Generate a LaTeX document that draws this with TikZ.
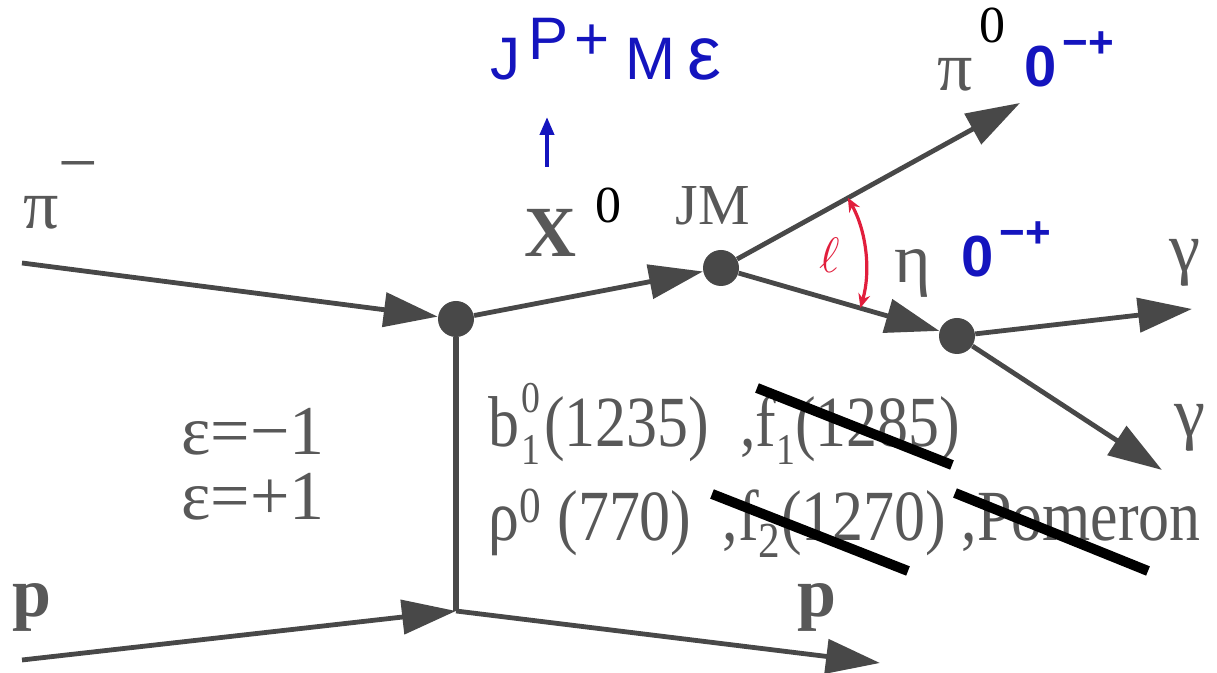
\documentclass[tikz,border=0pt]{standalone}
\usepackage{fontspec}
\setmainfont{Liberation Serif}
\setsansfont{Liberation Sans}
\newfontfamily\jmcond[FakeStretch=0.86]{Liberation Serif}
\usetikzlibrary{arrows.meta}
\definecolor{jmgrey}{RGB}{72,72,72}
\definecolor{jmtext}{RGB}{88,88,88}
\definecolor{jmblue}{RGB}{20,20,190}
\definecolor{jmred}{RGB}{225,30,60}
\def\jmFs#1{\fontsize{#1}{#1}\selectfont}
\def\jmQN#1#2#3{%
  \node[jmqn, font=\sffamily\bfseries\jmFs{29}] (#1) at (#2,#3) {0};
  \node[jmqn, font=\sffamily\bfseries\jmFs{22}] (#1s) at ({#2+47},{#3+22}) {\char"2212+};}

\begin{document}
\begin{tikzpicture}[
    x=0.5pt, y=0.5pt,
    jmline/.style  = {jmgrey, line width=2.4pt},
    jmarr/.style   = {jmline, -{Triangle[length=27pt,width=17pt]}},
    jmdot/.style   = {circle, fill=jmgrey, minimum size=18pt, inner sep=0pt},
    jmlbl/.style   = {text=jmtext, inner sep=0pt, font=\jmFs{35}},
    jmsup/.style   = {text=black, inner sep=0pt, font=\jmFs{26}},
    jmqn/.style    = {text=jmblue, inner sep=0pt},
    jmangle/.style = {jmred, line width=1.6pt,
                      {Stealth[length=7pt,width=6pt]}-{Stealth[length=7pt,width=6pt]}},
    jmcut/.style   = {black, line width=5pt}]

  \useasboundingbox (0,0) rectangle (1217,673);

  %% ---- vertices ----------------------------------------------------
  \node[jmdot] (vpi)  at (456,354) {};
  \node[jmdot] (vjm)  at (721,405) {};
  \node[jmdot] (veta) at (957,337) {};
  \coordinate (vp) at (456,62);

  % free ends
  \coordinate (pimin) at (22,410);
  \coordinate (pin)   at (22,13);
  \coordinate (pout)  at (880,10);
  \coordinate (pizout) at (1020,570);
  \coordinate (gaout) at (1192,364);
  \coordinate (gbout) at (1162,203);

  %% ---- lines -------------------------------------------------------
  \draw[jmarr]  (pimin) -- (vpi);
  \draw[jmline, line width=2.8pt] (vpi) -- (vp);
  \draw[jmarr]  (pin) -- (vp);
  \draw[jmarr]  (vp) -- (pout);
  \draw[jmarr]  (vpi) -- (vjm);
  \draw[jmarr]  (vjm) -- (pizout);
  \draw[jmarr]  (vjm) -- (veta);
  \draw[jmarr]  (veta) -- (gaout);
  \draw[jmarr]  (veta) -- (gbout);

  %% ---- labels ------------------------------------------------------
  \node[jmlbl] (lpim) at (41,460) {π};
  \node[jmlbl] (lpims) at (78,499) {\char"2212};
  \node[jmlbl, font=\bfseries\jmFs{35}] (lpl) at (32,66) {p};
  \node[jmlbl, font=\bfseries\jmFs{35}] (lpr) at (817,66) {p};
  \node[jmlbl, font=\bfseries\jmFs{36}] (lx) at (550,440) {X};
  \node[jmsup] (lxs) at (608,468) {0};
  \node[jmlbl, font=\jmFs{29}] (ljm) at (713,467) {JM};
  \node[jmlbl] (lpiz) at (955,598) {π};
  \node[jmsup] (lpizs) at (992,648) {0};
  \node[jmlbl] (leta) at (913,400) {η};
  \node[jmlbl] (lga) at (1185,410) {γ};
  \node[jmlbl] (lgb) at (1190,245) {γ};
  \node[jmlbl] (leps) at (253,241) {ε=\char"2212 1};
  \node[jmlbl] (lepp) at (253,176) {ε=+1};
  \node[jmlbl, font=\jmcond\jmFs{36}, anchor=base west] (lxa) at (488,226)
    {b\kern1pt\rlap{\raisebox{17pt}{\jmFs{22}0}}\raisebox{-9pt}{\jmFs{22}1}\kern2pt(1235)\ \ ,f\raisebox{-9pt}{\jmFs{22}1}(1285)};
  \node[jmlbl, font=\jmcond\jmFs{36}, anchor=base west] (lxb) at (488,132)
    {ρ\textsuperscript{0}\ (770)\ \ ,f\textsubscript{2}(1270)\ ,Pomeron};

  % quantum numbers
  \jmQN{qpiz}{1041}{606}
  \jmQN{qeta}{978}{416}
  \node[jmqn, font=\sffamily\jmFs{30}, anchor=base west] (qx) at (490,593)
    {J\kern4pt\raisebox{10pt}{P\kern3pt+}\kern8pt M\kern6pt{\jmFs{38}ε}};
  \coordinate (qxa) at (547,506);
  \coordinate (qxb) at (547,556);
  \draw[jmblue, line width=2pt, -{Triangle[length=9pt,width=7pt]}] (qxa) -- (qxb);

  %% ---- angle -------------------------------------------------------
  \draw[jmangle] ([shift={(29:145)}]vjm.center) arc[start angle=29, end angle=-16, radius=145];
  \node[text=jmred, inner sep=0pt, font=\jmFs{36}] (lell) at (830,418) {$\ell$};

  %% ---- crossed out -------------------------------------------------
  \draw[jmcut] (757,285) -- (952,208);
  \draw[jmcut] (712,179) -- (908,102);
  \draw[jmcut] (955,180) -- (1148,102);
\end{tikzpicture}
\end{document}
